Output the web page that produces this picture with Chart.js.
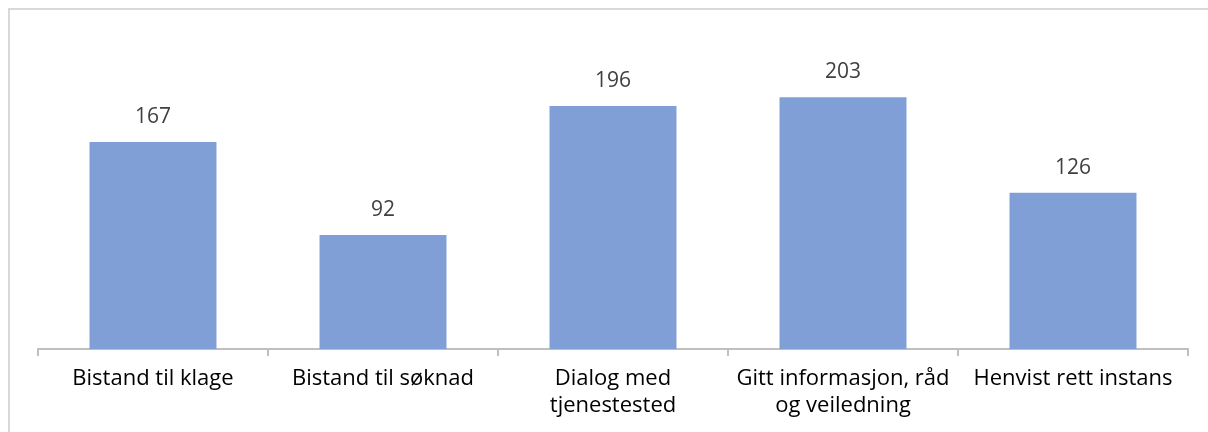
<!DOCTYPE html>
<html>
<head>
<meta charset="utf-8">
<script src="https://cdn.jsdelivr.net/npm/chart.js@4/dist/chart.umd.min.js"></script>
<style>
  html, body { margin: 0; padding: 0; background: #fff; overflow: hidden; }
  #frame {
    position: absolute; left: 8px; top: 8px; width: 1400px; height: 600px;
    border: 2px solid #d9d9d9; box-sizing: border-box;
  }
  #wrap { position: absolute; left: 0; top: 0; width: 1208px; height: 432px; }
</style>
</head>
<body>
<div id="frame"></div>
<div id="wrap"><canvas id="chart" width="1208" height="432"></canvas></div>
<script>
// Henvendelser etter type
var categories = [
    'Bistand til klage',
    'Bistand til søknad',
    ['Dialog med', 'tjenestested'],
    ['Gitt informasjon, råd', 'og veiledning'],
    'Henvist rett instans'
];
var counts = [167, 92, 196, 203, 126];

var FONT = '"Open Sans", sans-serif';

// Writes each bar's value above it
var valueLabels = {
    id: 'valueLabels',
    afterDatasetsDraw: function(chart) {
        var ctx = chart.ctx;
        var meta = chart.getDatasetMeta(0);
        ctx.save();
        ctx.font = '21px ' + FONT;
        ctx.fillStyle = '#404040';
        ctx.textAlign = 'center';
        ctx.textBaseline = 'alphabetic';
        meta.data.forEach(function(bar, i) {
            ctx.fillText(String(counts[i]), bar.x, bar.y - 19);
        });
        ctx.restore();
    }
};

var ctx = document.getElementById('chart').getContext('2d');
var chart = new Chart(ctx, {
    type: 'bar',
    data: {
        labels: categories,
        datasets: [{
            data: counts,
            backgroundColor: '#7f9fd6',
            borderWidth: 0,
            categoryPercentage: 1,
            barPercentage: 0.552
        }]
    },
    options: {
        responsive: false,
        animation: false,
        layout: { padding: { left: 38, right: 20, top: 39, bottom: 0 } },
        plugins: { legend: { display: false }, tooltip: { enabled: false } },
        scales: {
            x: {
                grid: {
                    offset: true,
                    drawOnChartArea: false,
                    drawTicks: true,
                    tickLength: 7,
                    color: '#bfbfbf',
                    lineWidth: 2
                },
                border: { color: '#bfbfbf', width: 2 },
                ticks: {
                    color: '#000',
                    font: { family: FONT, size: 22, lineHeight: 1.2 },
                    padding: 10,
                    maxRotation: 0,
                    autoSkip: false
                },
                afterFit: function(scale) { scale.height = 83; }
            },
            y: {
                display: false,
                min: 0,
                max: 250
            }
        }
    },
    plugins: [valueLabels]
});
</script>
</body>
</html>
